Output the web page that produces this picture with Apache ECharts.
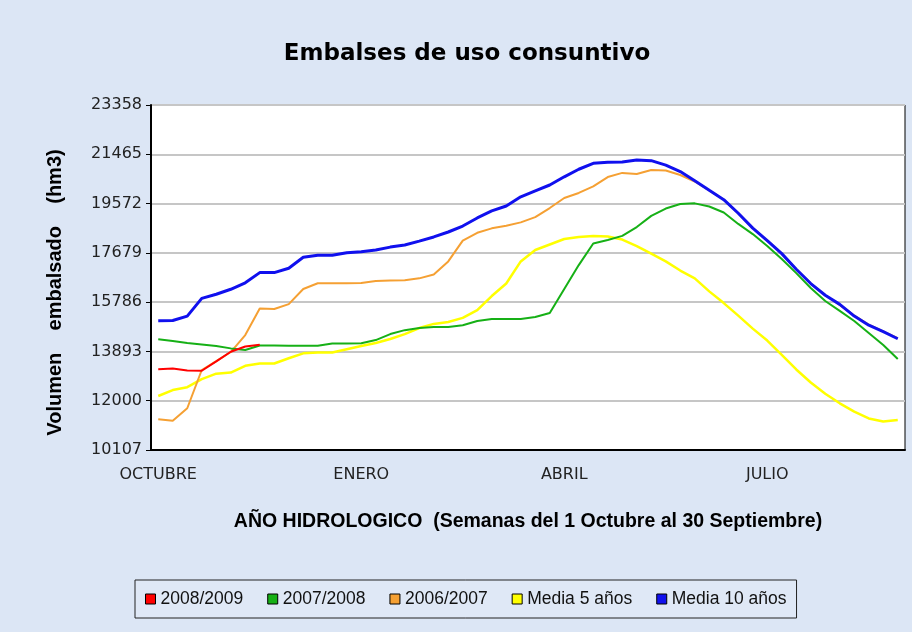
<!DOCTYPE html>
<html>
<head>
<meta charset="utf-8">
<script src="https://cdn.jsdelivr.net/npm/echarts@6/dist/echarts.min.js"></script>
<style>
  html, body { margin: 0; padding: 0; background: #dce6f5; }
  #chart { width: 912px; height: 632px; }
</style>
</head>
<body>
<div id="chart"></div>
<script>
// semanas del año hidrologico (1 octubre - 30 septiembre)
const semanas = [1, 2, 3, 4, 5, 6, 7, 8, 9, 10, 11, 12, 13, 14, 15, 16, 17, 18, 19, 20,
  21, 22, 23, 24, 25, 26, 27, 28, 29, 30, 31, 32, 33, 34, 35, 36, 37, 38, 39, 40,
  41, 42, 43, 44, 45, 46, 47, 48, 49, 50, 51, 52]
const meses = ['OCTUBRE', 'ENERO', 'ABRIL', 'JULIO']
const semanaMes = [0, 14, 28, 42]
const ticksVolumen = ['10107', '12000', '13893', '15786', '17679', '19572', '21465', '23358']

const s2008 = [13210, 13240, 13160, 13150, 13510, 13880, 14080, 14150]
const s2007 = [14360, 14290, 14220, 14160, 14100, 14010, 13950, 14120, 14120, 14110,
  14110, 14110, 14200, 14200, 14210, 14330, 14560, 14710, 14790, 14830,
  14830, 14900, 15060, 15140, 15140, 15140, 15215, 15370, 16290, 17210,
  18040, 18170, 18330, 18670, 19100, 19380, 19555, 19580, 19460, 19230,
  18790, 18400, 17940, 17440, 16900, 16330, 15830, 15450, 15060, 14600,
  14140, 13600]
const s2006 = [11290, 11230, 11710, 13180, 13520, 13870, 14520, 15540, 15520, 15710,
  16290, 16510, 16510, 16510, 16520, 16600, 16620, 16630, 16700, 16850,
  17350, 18150, 18450, 18620, 18720, 18850, 19050, 19400, 19785, 19980,
  20230, 20590, 20750, 20710, 20860, 20840, 20670, 20420, 20080, 19720,
  19200, 18630, 18150, 17650, 17050, 16500, 16050, 15680, 15270, 14920,
  14660, 14400]
const media5 = [12180, 12410, 12520, 12830, 13040, 13080, 13340, 13430, 13430, 13630,
  13820, 13850, 13850, 13980, 14100, 14215, 14370, 14560, 14790, 14950,
  15025, 15180, 15480, 16020, 16500, 17350, 17790, 18000, 18210, 18290,
  18330, 18310, 18190, 17940, 17650, 17350, 17000, 16700, 16200, 15750,
  15270, 14770, 14310, 13760, 13200, 12700, 12270, 11900, 11580, 11320,
  11200, 11260]
const media10 = [15075, 15080, 15250, 15930, 16090, 16280, 16530, 16920, 16920, 17090,
  17510, 17585, 17585, 17685, 17720, 17790, 17900, 17980, 18130, 18290,
  18480, 18710, 19020, 19290, 19480, 19830, 20060, 20285, 20600, 20890,
  21120, 21160, 21170, 21245, 21220, 21050, 20800, 20450, 20080, 19720,
  19200, 18630, 18150, 17650, 17050, 16500, 16050, 15700, 15250, 14900,
  14650, 14380]

const chart = echarts.init(document.getElementById('chart'))

function serie (name, data, color, width, z) {
  return {
    name: name,
    type: 'line',
    data: data,
    xAxisIndex: 0,
    yAxisIndex: 0,
    showSymbol: false,
    symbol: 'none',
    z: z,
    itemStyle: { color: color },
    lineStyle: { color: color, width: width },
    emphasis: { disabled: true }
  }
}

const option = {
  animation: false,
  backgroundColor: '#dce6f5',
  title: {
    text: 'Embalses de uso consuntivo',
    left: 462,
    top: 38,
    textAlign: 'center',
    textStyle: {
      fontFamily: 'DejaVu Sans',
      fontWeight: 'bold',
      fontSize: 23,
      color: '#000'
    }
  },
  legend: {
    left: 135,
    top: 580,
    padding: [10, 10, 10, 10],
    itemGap: 24,
    itemWidth: 10,
    itemHeight: 10,
    icon: 'rect',
    borderColor: '#222',
    borderWidth: 1,
    backgroundColor: '#dfe8f6',
    itemStyle: { borderColor: '#000', borderWidth: 1 },
    textStyle: { fontFamily: 'Liberation Sans', fontSize: 17.5, color: '#111' },
    data: ['2008/2009', '2007/2008', '2006/2007', 'Media 5 años', 'Media 10 años']
  },
  grid: {
    left: 151,
    right: 7,
    top: 105,
    bottom: 182,
    outerBoundsMode: 'none',
    containLabel: false,
    show: true,
    backgroundColor: '#fff',
    borderColor: '#000',
    borderWidth: 1
  },
  xAxis: {
    type: 'category',
    data: semanas,
    boundaryGap: true,
    name: 'AÑO HIDROLOGICO  (Semanas del 1 Octubre al 30 Septiembre)',
    nameLocation: 'middle',
    nameGap: 62,
    nameTextStyle: {
      fontFamily: 'Liberation Sans',
      fontWeight: 'bold',
      fontSize: 19.5,
      color: '#000'
    },
    axisLine: { lineStyle: { color: '#000', width: 2 } },
    axisTick: { alignWithLabel: true, interval: 0, length: 5, lineStyle: { color: '#000' } },
    axisLabel: {
      interval: 0,
      margin: 17,
      fontFamily: 'DejaVu Sans',
      fontSize: 16,
      color: '#222',
      formatter: function (v, i) {
        const k = semanaMes.indexOf(i)
        return k >= 0 ? meses[k] : ''
      }
    },
    splitLine: { show: false }
  },
  yAxis: [
    {
      // escala de los valores
      type: 'value',
      min: 10107,
      max: 23358,
      position: 'left',
      show: false
    },
    {
      // marcas y rejilla
      type: 'category',
      data: ticksVolumen,
      boundaryGap: false,
      position: 'left',
      offset: 0,
      name: 'Volumen    embalsado    (hm3)',
      nameLocation: 'middle',
      nameGap: 86,
      nameTextStyle: {
        fontFamily: 'Liberation Sans',
        fontWeight: 'bold',
        fontSize: 20,
        color: '#000',
        padding: [0, 30, 0, 0]
      },
      axisLine: { lineStyle: { color: '#000', width: 2 } },
      axisTick: { show: true, length: 5, lineStyle: { color: '#000' } },
      axisLabel: {
        margin: 9,
        fontFamily: 'DejaVu Sans',
        fontSize: 16,
        color: '#222'
      },
      splitLine: { show: true, lineStyle: { color: '#c6c6c6', width: 2 } }
    }
  ],
  series: [
    serie('Media 5 años', media5, '#ffff00', 2.5, 2),
    serie('2006/2007', s2006, '#f5a033', 2, 3),
    serie('2007/2008', s2007, '#16b016', 2, 4),
    serie('Media 10 años', media10, '#1010ee', 3, 5),
    serie('2008/2009', s2008, '#ff0000', 2, 6)
  ]
}

chart.setOption(option)
</script>
</body>
</html>
